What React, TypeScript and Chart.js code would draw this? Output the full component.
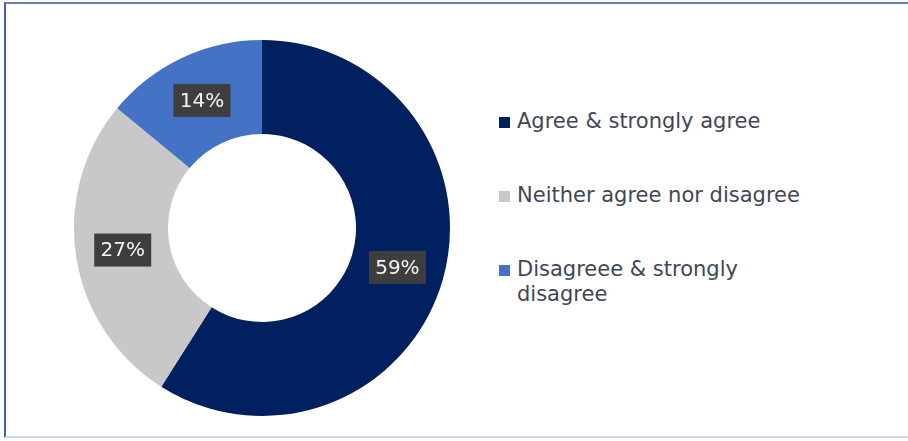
import React, { useEffect, useRef } from "react";
import { Chart, registerables } from "chart.js";

Chart.register(...registerables);

const categories = ["Agree & strongly agree", "Neither agree nor disagree", "Disagreee & strongly disagree"];
const legendLines = [["Agree & strongly agree"], ["Neither agree nor disagree"], ["Disagreee & strongly", "disagree"]];
const values = [59, 27, 14];
const valueLabels = ["59%", "27%", "14%"];
const colors = ["#002060", "#C8C8C8", "#4472C4"];

const FONT = "'DejaVu Sans', sans-serif";

const labelPlugin = {
  id: "boxLabels",
  afterDatasetsDraw(chart: any) {
    const ctx = chart.ctx;
    const meta = chart.getDatasetMeta(0);
    meta.data.forEach((arc: any, i: number) => {
      const p = arc.getProps(["startAngle", "endAngle", "innerRadius", "outerRadius", "x", "y"], true);
      const mid = (p.startAngle + p.endAngle) / 2;
      const r = (p.innerRadius + p.outerRadius) / 2;
      const cx = p.x + Math.cos(mid) * r;
      const cy = p.y + Math.sin(mid) * r;
      const w = 57, h = 33;
      ctx.save();
      ctx.fillStyle = "#3e3e3e";
      ctx.fillRect(cx - w / 2, cy - h / 2, w, h);
      ctx.fillStyle = "#f4f4f4";
      ctx.font = `500 20px ${FONT}`;
      ctx.textAlign = "center";
      ctx.textBaseline = "middle";
      ctx.fillText(valueLabels[i], cx, cy + 1);
      ctx.restore();
    });
  },
};

export default function App() {
  const ref = useRef<HTMLCanvasElement>(null);
  useEffect(() => {
    if (!ref.current) return;
    const chart = new Chart(ref.current, {
      type: "doughnut",
      data: {
        labels: categories,
        datasets: [{ data: values, backgroundColor: colors, borderWidth: 0 }],
      },
      options: {
        animation: false,
        responsive: false,
        maintainAspectRatio: false,
        cutout: "50%",
        layout: { padding: 10 },
        plugins: { legend: { display: false }, tooltip: { enabled: false } },
      },
      plugins: [labelPlugin],
    });
    return () => chart.destroy();
  }, []);

  const rowTops = [122, 196, 270];
  return (
    <div style={{ position: "fixed", left: 0, top: 0, width: 908, height: 441, background: "#fff", overflow: "hidden" }}>
      <div
        style={{
          position: "absolute",
          left: 4,
          top: 2,
          width: 904,
          height: 436,
          borderTop: "2px solid #6a7cbc",
          borderLeft: "2px solid #3f5fc2",
          borderBottom: "2px solid #d6daf0",
          boxSizing: "border-box",
        }}
      />
      <canvas ref={ref} width={396} height={396} style={{ position: "absolute", left: 64, top: 30, width: 396, height: 396 }} />
      {legendLines.map((lines, i) => (
        <div key={i} style={{ position: "absolute", left: 499, top: rowTops[i] - 13 }}>
          <div style={{ position: "absolute", left: 0, top: 8, width: 11, height: 11, background: colors[i] }} />
          <div
            style={{
              position: "absolute",
              left: 18,
              top: 0,
              whiteSpace: "nowrap",
              fontFamily: FONT,
              fontSize: 21,
              lineHeight: "25px",
              color: "#3f4658",
            }}
          >
            {lines.map((l, j) => (
              <div key={j}>{l}</div>
            ))}
          </div>
        </div>
      ))}
    </div>
  );
}
